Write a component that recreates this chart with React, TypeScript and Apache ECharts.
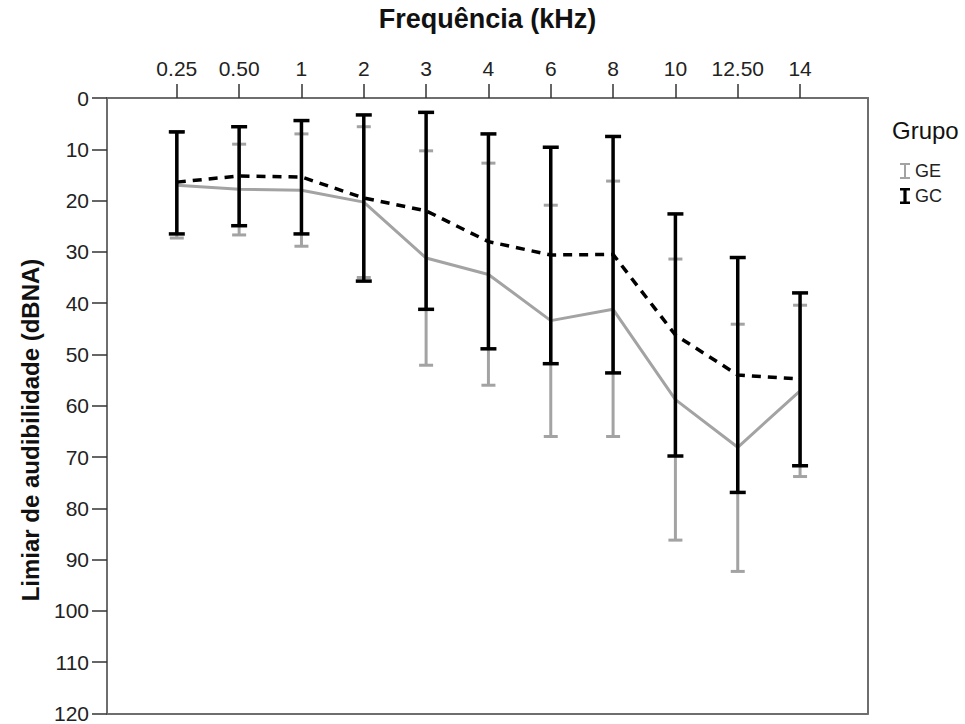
import React, { useEffect, useRef } from "react";
import * as echarts from "echarts";

const categories = ["0.25", "0.50", "1", "2", "3", "4", "6", "8", "10", "12.50", "14"];
const geMean = [17.0, 17.8, 18.0, 20.3, 31.2, 34.4, 43.4, 41.2, 58.8, 68.1, 57.1];
const geLow = [6.7, 9.0, 7.0, 5.6, 10.3, 12.7, 20.9, 16.2, 31.4, 44.1, 40.4];
const geHigh = [27.3, 26.7, 28.9, 35.0, 52.1, 56.0, 66.0, 66.0, 86.2, 92.3, 73.8];
const gcMean = [16.4, 15.2, 15.4, 19.5, 22.0, 28.0, 30.6, 30.5, 46.2, 54.0, 54.8];
const gcLow = [6.6, 5.6, 4.4, 3.3, 2.8, 7.0, 9.6, 7.5, 22.6, 31.1, 38.0];
const gcHigh = [26.5, 24.9, 26.5, 35.7, 41.2, 48.9, 51.8, 53.6, 69.8, 76.9, 71.7];
const yMin = 0;
const yMax = 120;
const yStep = 10;

const FONT = "'Liberation Sans', Arial, sans-serif";
const FRAME = "#6e6e6e";
const GRAY = "#a3a3a3";
const BLACK = "#000000";

function errorBars(name: string, low: number[], high: number[], color: string, width: number, capW: number, z: number) {
  return {
    type: "custom",
    name,
    z,
    itemStyle: { color },
    renderItem: (params: any, api: any) => {
      const x = api.value(0);
      const p1 = api.coord([x, api.value(1)]);
      const p2 = api.coord([x, api.value(2)]);
      const hw = capW / 2;
      const st = { stroke: color, lineWidth: width };
      return {
        type: "group",
        children: [
          { type: "line", shape: { x1: p1[0], y1: p1[1], x2: p2[0], y2: p2[1] }, style: st },
          { type: "line", shape: { x1: p1[0] - hw, y1: p1[1], x2: p1[0] + hw, y2: p1[1] }, style: st },
          { type: "line", shape: { x1: p2[0] - hw, y1: p2[1], x2: p2[0] + hw, y2: p2[1] }, style: st },
        ],
      };
    },
    encode: { x: 0, y: [1, 2] },
    data: categories.map((_, i) => [i, low[i], high[i]]),
  };
}

export default function App() {
  const ref = useRef<HTMLDivElement>(null);
  useEffect(() => {
    if (!ref.current) return;
    const chart = echarts.init(ref.current, undefined, { renderer: "svg" });
    const idx = categories.map((_, i) => i);
    chart.setOption({
      animation: false,
      backgroundColor: "#ffffff",
      textStyle: { fontFamily: FONT },
      grid: { left: 107, top: 98, right: 97, bottom: 9, containLabel: false },
      legend: {
        orient: "vertical",
        left: 895,
        top: 157,
        itemWidth: 10,
        itemHeight: 16,
        itemGap: 7,
        data: [
          { name: "GE", icon: "path://M0,0H10V2H6V14H10V16H0V14H4V2H0Z" },
          { name: "GC", icon: "path://M0,0H10V2.6H6.6V13.4H10V16H0V13.4H3.4V2.6H0Z" },
        ],
        textStyle: { fontSize: 18, color: "#222", fontFamily: FONT },
        selectedMode: false,
      },
      graphic: [
        { type: "text", left: 892, top: 118, style: { text: "Grupo", fontSize: 24, fill: "#111", fontFamily: FONT } },
        {
          type: "text",
          x: 30,
          y: 430,
          rotation: Math.PI / 2,
          style: {
            text: "Limiar de audibilidade (dBNA)",
            fontSize: 24,
            fontWeight: "bold",
            fill: "#111",
            fontFamily: FONT,
            align: "center",
            verticalAlign: "middle",
          },
        },
      ],
      xAxis: [
        {
          type: "value",
          position: "top",
          min: -1.12,
          max: 11.09,
          name: "Frequência (kHz)",
          nameLocation: "middle",
          nameGap: 66,
          nameTextStyle: { fontSize: 27, fontWeight: "bold", color: "#111", fontFamily: FONT },
          axisLine: { show: true, onZero: false, lineStyle: { color: FRAME, width: 2 } },
          axisTick: { show: true, length: 14, customValues: idx, lineStyle: { color: "#333", width: 1.5 } },
          axisLabel: {
            customValues: idx,
            formatter: (v: number) => categories[Math.round(v)] ?? "",
            fontSize: 21,
            color: "#222",
            margin: 19,
            fontFamily: FONT,
          },
          splitLine: { show: false },
        },
        {
          type: "value",
          position: "bottom",
          min: -1.12,
          max: 11.09,
          axisLine: { show: true, onZero: false, lineStyle: { color: FRAME, width: 2 } },
          axisTick: { show: false },
          axisLabel: { show: false },
          splitLine: { show: false },
        },
      ],
      yAxis: [
        {
          type: "value",
          inverse: true,
          min: yMin,
          max: yMax,
          interval: yStep,
          axisLine: { show: true, onZero: false, lineStyle: { color: FRAME, width: 2 } },
          axisTick: { show: true, length: 15, lineStyle: { color: "#333", width: 1.5 } },
          axisLabel: { fontSize: 21, color: "#222", margin: 18, fontFamily: FONT },
          splitLine: { show: false },
        },
        {
          type: "value",
          position: "right",
          inverse: true,
          min: yMin,
          max: yMax,
          interval: yStep,
          axisLine: { show: true, onZero: false, lineStyle: { color: FRAME, width: 2 } },
          axisTick: { show: false },
          axisLabel: { show: false },
          splitLine: { show: false },
        },
      ],
      series: [
        errorBars("GE", geLow, geHigh, GRAY, 3, 14, 2),
        {
          type: "line",
          name: "GE",
          z: 3,
          data: idx.map((i) => [i, geMean[i]]),
          showSymbol: false,
          symbol: "none",
          lineStyle: { color: GRAY, width: 3 },
          itemStyle: { color: GRAY },
        },
        errorBars("GC", gcLow, gcHigh, BLACK, 3.5, 16, 4),
        {
          type: "line",
          name: "GC",
          z: 5,
          data: idx.map((i) => [i, gcMean[i]]),
          showSymbol: false,
          symbol: "none",
          lineStyle: { color: BLACK, width: 3.5, type: [9, 7] },
          itemStyle: { color: BLACK },
        },
      ],
    });
    return () => chart.dispose();
  }, []);
  return <div ref={ref} style={{ width: 965, height: 724, position: "absolute", left: 0, top: 0 }} />;
}
